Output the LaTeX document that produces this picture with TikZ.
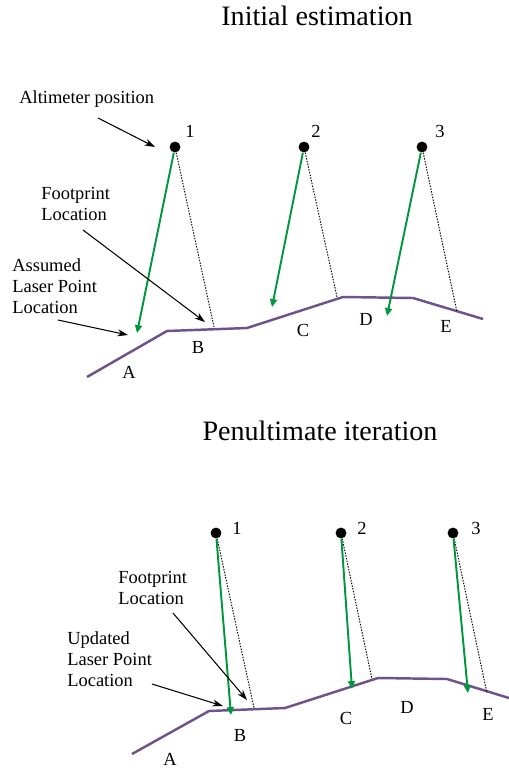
\documentclass[tikz,border=0pt]{standalone}
\usepackage{fontspec}
\setmainfont{Liberation Serif}
\usetikzlibrary{arrows.meta}

\definecolor{terrain}{RGB}{112,82,138}
\definecolor{beam}{RGB}{0,150,60}

\begin{document}
\begin{tikzpicture}[x=0.02cm, y=-0.02cm,
    alt/.style={circle, fill=black, inner sep=0pt, minimum size=6.2pt},
    gnd/.style={draw=terrain, line width=1.4pt},
    ray/.style={draw=beam, line width=1.1pt, -{Triangle[length=4.5pt,width=4pt]}},
    fp/.style={draw=black, dash pattern=on 0.8pt off 0.8pt, line width=0.55pt},
    ptr/.style={-{Stealth[length=6pt,width=4pt]}, line width=0.6pt},
    lbl/.style={font=\fontsize{10.5}{12}\selectfont, align=left, inner sep=0pt},
    ttl/.style={font=\fontsize{16}{19}\selectfont, inner sep=0pt}
]
\useasboundingbox (0,0) rectangle (509,772);

% ---- initial estimation ----
\node[ttl] (ttlA) at (317,16) {Initial estimation};

\coordinate (ga1) at (87,377);
\coordinate (ga2) at (167,331);
\coordinate (ga3) at (247,328);
\coordinate (ga4) at (343,297);
\coordinate (ga5) at (413,298);
\coordinate (ga6) at (483,319);
\draw[gnd] (ga1) -- (ga2) -- (ga3) -- (ga4) -- (ga5) -- (ga6);

\node[alt] (altA1) at (175,147) {};
\node[alt] (altA2) at (304,147) {};
\node[alt] (altA3) at (422,147) {};
\node[lbl] (numA1) at (190,131) {1};
\node[lbl] (numA2) at (316,131) {2};
\node[lbl] (numA3) at (440,131) {3};

\coordinate (lpA1) at (137,333);
\coordinate (lpA2) at (272,307);
\coordinate (lpA3) at (387,316);
\coordinate (fpA1) at (214,327);
\coordinate (fpA2) at (337,297);
\coordinate (fpA3) at (457,312);

\draw[fp] (altA1) -- (fpA1);
\draw[fp] (altA2) -- (fpA2);
\draw[fp] (altA3) -- (fpA3);
\draw[ray] (altA1) -- (lpA1);
\draw[ray] (altA2) -- (lpA2);
\draw[ray] (altA3) -- (lpA3);

\node[lbl] (ptA) at (129,372) {A};
\node[lbl] (ptB) at (198,347) {B};
\node[lbl] (ptC) at (303,330) {C};
\node[lbl] (ptD) at (366,319) {D};
\node[lbl] (ptE) at (446,326) {E};

\node[lbl, anchor=west] (altTxt) at (19,99) {Altimeter position};
\node[lbl, anchor=west] (fpTxtA) at (41,204) {Footprint\\Location};
\node[lbl, anchor=west] (lpTxtA) at (12,286) {Assumed\\Laser Point\\Location};

\coordinate (altS) at (98,118);
\coordinate (altE) at (155,147);
\coordinate (fpAS) at (83,230);
\coordinate (fpAE) at (205,322);
\coordinate (lpAS) at (58,320);
\coordinate (lpAE) at (128,335);
\draw[ptr] (altS) -- (altE);
\draw[ptr] (fpAS) -- (fpAE);
\draw[ptr] (lpAS) -- (lpAE);

% ---- penultimate iteration ----
\node[ttl] (ttlB) at (320,431) {Penultimate iteration};

\coordinate (gb1) at (132,754);
\coordinate (gb2) at (209,711);
\coordinate (gb3) at (285,708);
\coordinate (gb4) at (378,678);
\coordinate (gb5) at (447,679);
\coordinate (gb6) at (509,698);
\draw[gnd] (gb1) -- (gb2) -- (gb3) -- (gb4) -- (gb5) -- (gb6);

\node[alt] (altB1) at (216,533) {};
\node[alt] (altB2) at (341,533) {};
\node[alt] (altB3) at (453,533) {};
\node[lbl] (numB1) at (237,528) {1};
\node[lbl] (numB2) at (362,528) {2};
\node[lbl] (numB3) at (476,528) {3};

\coordinate (lpB1) at (231,715);
\coordinate (lpB2) at (352,689);
\coordinate (lpB3) at (468,693);
\coordinate (fpB1) at (254,708);
\coordinate (fpB2) at (372,679);
\coordinate (fpB3) at (487,693);

\draw[fp] (altB1) -- (fpB1);
\draw[fp] (altB2) -- (fpB2);
\draw[fp] (altB3) -- (fpB3);
\draw[ray] (altB1) -- (lpB1);
\draw[ray] (altB2) -- (lpB2);
\draw[ray] (altB3) -- (lpB3);

\node[lbl] (qtA) at (170,759) {A};
\node[lbl] (qtB) at (240,735) {B};
\node[lbl] (qtC) at (346,718) {C};
\node[lbl] (qtD) at (407,707) {D};
\node[lbl] (qtE) at (488,714) {E};

\node[lbl, anchor=west] (fpTxtB) at (118,588) {Footprint\\Location};
\node[lbl, anchor=west] (lpTxtB) at (67,659) {Updated\\Laser Point\\Location};

\coordinate (fpBS) at (173,613);
\coordinate (fpBE) at (247,700);
\coordinate (lpBS) at (152,684);
\coordinate (lpBE) at (223,706);
\draw[ptr] (fpBS) -- (fpBE);
\draw[ptr] (lpBS) -- (lpBE);
\end{tikzpicture}
\end{document}
